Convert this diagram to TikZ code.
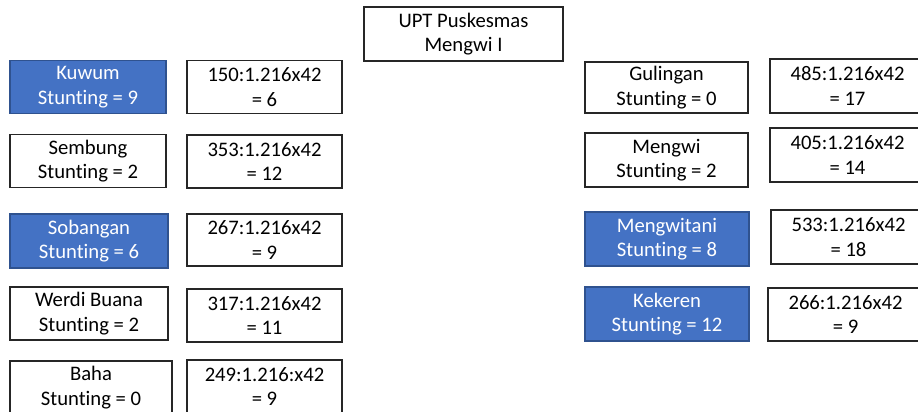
\documentclass[tikz,border=0pt]{standalone}
\usepackage{fontspec}
\setmainfont{Carlito}[Ligatures=NoCommon]
\usepackage{xcolor}
\usepackage{tikz}
\usetikzlibrary{positioning}
\definecolor{mapcolor0}{HTML}{4472C4}
\definecolor{mapcolor1}{HTML}{2F528F}
\definecolor{mapcolor2}{HTML}{262626}
\tikzset{
  box_base/.style={draw=mapcolor2, line width=0.8pt, align=center, inner sep=0pt, font=\fontsize{15.5}{18.5}\selectfont, minimum width=116.25pt, minimum height=39.75pt},
  town_plain/.style={box_base, fill=white, text=black},
  town_high/.style={box_base, draw=mapcolor1, fill=mapcolor0, text=white},
  calc_box/.style={box_base, fill=white, text=black},
  head_box/.style={box_base, minimum width=149.25pt, minimum height=40.5pt}
}
\begin{document}
\begin{tikzpicture}[x=0.75pt, y=-0.75pt]
\useasboundingbox (0,0) rectangle (918,411);
\node[head_box] (head_node) at (463.5, 34) {UPT Puskesmas\\Mengwi I};
% left column
\node[town_high, minimum width=117pt] (town_kuwum) at (88, 87) {Kuwum\\Stunting = 9};
\node[calc_box] (calc_kuwum) at (264.5, 87) {150:1.216x42\\= 6};
\node[town_plain, minimum width=117pt] (town_sembung) at (88, 161) {Sembung\\Stunting = 2};
\node[calc_box] (calc_sembung) at (264.5, 161.5) {353:1.216x42\\= 12};
\node[town_high, minimum width=118.5pt, minimum height=40.5pt] (town_sobangan) at (89, 241) {Sobangan\\Stunting = 6};
\node[calc_box, minimum height=39pt] (calc_sobangan) at (264.5, 240) {267:1.216x42\\= 9};
\node[town_plain, minimum width=118.5pt] (town_werdi) at (89, 313.5) {Werdi Buana\\Stunting = 2};
\node[calc_box] (calc_werdi) at (264.5, 315.5) {317:1.216x42\\= 11};
\node[town_plain, minimum width=121.5pt] (town_baha) at (91, 387.5) {Baha\\Stunting = 0};
\node[calc_box] (calc_baha) at (264.5, 386.5) {249:1.216:x42\\= 9};
% right column
\node[town_plain, minimum width=122.25pt, minimum height=38.25pt] (town_gulingan) at (666.5, 87.5) {Gulingan\\Stunting = 0};
\node[calc_box, minimum height=40.5pt] (calc_gulingan) at (847.5, 86) {485:1.216x42\\= 17};
\node[town_plain, minimum width=122.25pt, minimum height=40.5pt] (town_mengwi) at (666.5, 160) {Mengwi\\Stunting = 2};
\node[calc_box, minimum height=40.5pt] (calc_mengwi) at (847.5, 155) {405:1.216x42\\= 14};
\node[town_high, minimum width=123pt, minimum height=40.5pt] (town_mengwitani) at (667, 239) {Mengwitani\\Stunting = 8};
\node[calc_box, minimum height=40.5pt] (calc_mengwitani) at (848.5, 237) {533:1.216x42\\= 18};
\node[town_high, minimum width=123pt, minimum height=40.5pt] (town_kekeren) at (667, 314) {Kekeren\\Stunting = 12};
\node[calc_box, minimum height=39.75pt] (calc_kekeren) at (845.5, 314.5) {266:1.216x42\\= 9};
\end{tikzpicture}
\end{document}
